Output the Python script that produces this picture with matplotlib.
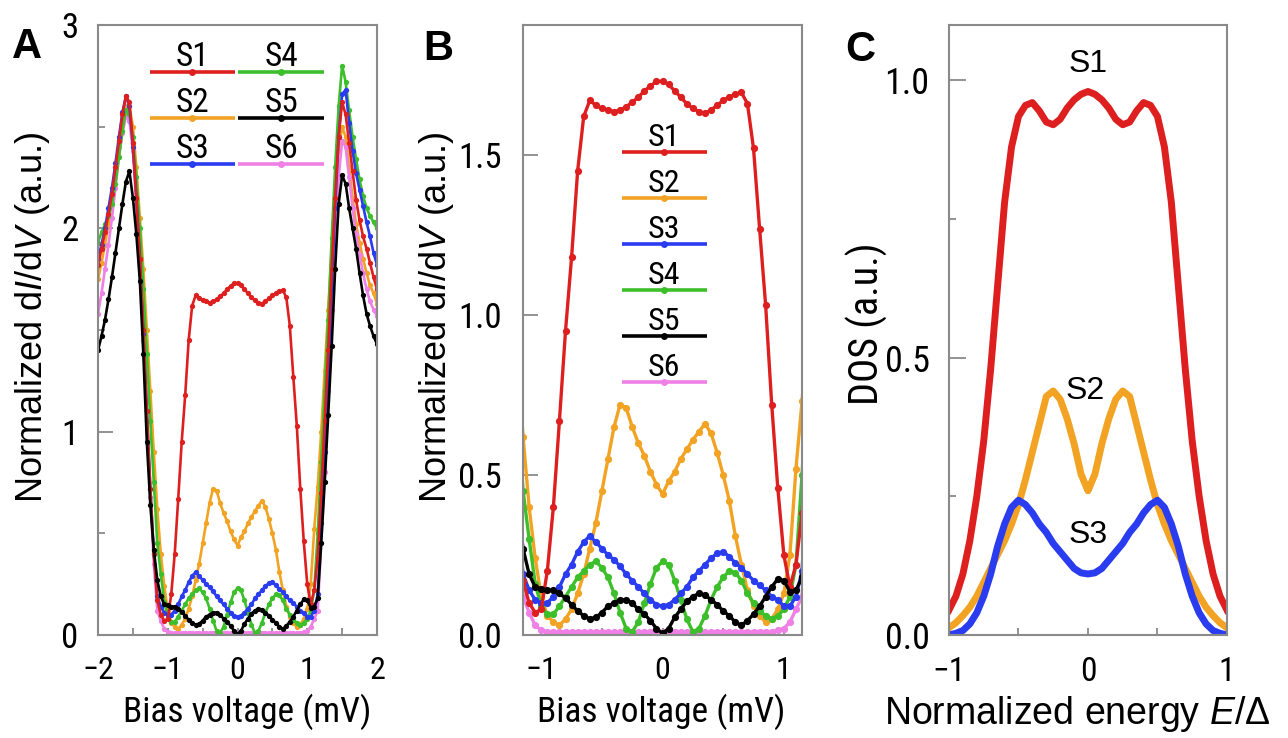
import matplotlib
matplotlib.use('Agg')
import matplotlib.pyplot as plt
import numpy as np

plt.rcParams['font.family'] = ['Liberation Sans', 'DejaVu Sans']
plt.rcParams['mathtext.fontset'] = 'custom'
plt.rcParams['mathtext.rm'] = 'Liberation Sans'
plt.rcParams['mathtext.it'] = 'Liberation Sans:italic'

COND = ['Roboto Condensed', 'Liberation Sans', 'DejaVu Sans']

# ---- panels A and B: measured dI/dV spectra (same data, B is the zoom) ----
bias = [-2.00, -1.95, -1.90, -1.85, -1.80, -1.75, -1.70, -1.65, -1.60, -1.55,
        -1.50, -1.45, -1.40, -1.35, -1.30, -1.25, -1.20, -1.15, -1.10, -1.05,
        -1.00, -0.95, -0.90, -0.85, -0.80, -0.75, -0.70, -0.65, -0.60, -0.55,
        -0.50, -0.45, -0.40, -0.35, -0.30, -0.25, -0.20, -0.15, -0.10, -0.05,
        0.00, 0.05, 0.10, 0.15, 0.20, 0.25, 0.30, 0.35, 0.40, 0.45,
        0.50, 0.55, 0.60, 0.65, 0.70, 0.75, 0.80, 0.85, 0.90, 0.95,
        1.00, 1.05, 1.10, 1.15, 1.20, 1.25, 1.30, 1.35, 1.40, 1.45,
        1.50, 1.55, 1.60, 1.65, 1.70, 1.75, 1.80, 1.85, 1.90, 1.95, 2.00]

s1 = [1.82, 1.90, 1.98, 2.07, 2.17, 2.30, 2.43, 2.56, 2.65, 2.62,
      2.42, 2.15, 1.85, 1.50, 1.10, 0.72, 0.40, 0.17, 0.10, 0.07,
      0.08, 0.20, 0.40, 0.67, 0.95, 1.18, 1.45, 1.62, 1.67, 1.655,
      1.645, 1.64, 1.635, 1.64, 1.65, 1.665, 1.68, 1.70, 1.715, 1.73,
      1.73, 1.72, 1.70, 1.68, 1.66, 1.645, 1.635, 1.63, 1.64, 1.655,
      1.67, 1.68, 1.69, 1.695, 1.66, 1.52, 1.27, 1.03, 0.72, 0.46,
      0.25, 0.15, 0.22, 0.38, 0.70, 1.05, 1.40, 1.80, 2.15, 2.45,
      2.62, 2.56, 2.42, 2.28, 2.14, 2.04, 1.96, 1.90, 1.83, 1.76, 1.70]

s2 = [1.75, 1.83, 1.92, 2.02, 2.13, 2.26, 2.40, 2.52, 2.60, 2.60,
      2.50, 2.30, 2.05, 1.80, 1.50, 1.20, 0.90, 0.62, 0.40, 0.24,
      0.12, 0.06, 0.04, 0.03, 0.05, 0.08, 0.13, 0.19, 0.27, 0.35,
      0.45, 0.55, 0.65, 0.72, 0.71, 0.65, 0.60, 0.56, 0.51, 0.47,
      0.44, 0.48, 0.51, 0.55, 0.58, 0.61, 0.635, 0.66, 0.63, 0.57,
      0.50, 0.42, 0.31, 0.22, 0.14, 0.09, 0.06, 0.04, 0.05, 0.08,
      0.13, 0.25, 0.52, 0.73, 1.00, 1.30, 1.60, 1.90, 2.15, 2.38,
      2.50, 2.45, 2.30, 2.15, 2.02, 1.93, 1.85, 1.78, 1.72, 1.68, 1.63]

s3 = [1.85, 1.92, 2.00, 2.10, 2.20, 2.32, 2.45, 2.57, 2.65, 2.60,
      2.40, 2.15, 1.85, 1.48, 1.10, 0.72, 0.40, 0.19, 0.14, 0.11,
      0.10, 0.10, 0.12, 0.15, 0.19, 0.22, 0.26, 0.29, 0.31, 0.29,
      0.27, 0.25, 0.235, 0.215, 0.19, 0.17, 0.15, 0.13, 0.11, 0.095,
      0.09, 0.095, 0.11, 0.13, 0.15, 0.18, 0.20, 0.22, 0.24, 0.255,
      0.26, 0.245, 0.225, 0.21, 0.19, 0.17, 0.155, 0.14, 0.12, 0.11,
      0.09, 0.09, 0.12, 0.20, 0.55, 0.90, 1.30, 1.70, 2.10, 2.45,
      2.66, 2.68, 2.52, 2.38, 2.27, 2.19, 2.11, 2.03, 1.96, 1.88, 1.82]

s4 = [1.93, 1.98, 2.02, 2.06, 2.12, 2.22, 2.35, 2.48, 2.58, 2.56,
      2.45, 2.25, 2.00, 1.70, 1.38, 1.05, 0.75, 0.45, 0.30, 0.16,
      0.09, 0.065, 0.065, 0.09, 0.12, 0.15, 0.18, 0.20, 0.22, 0.23,
      0.21, 0.18, 0.13, 0.07, 0.02, 0.01, 0.04, 0.10, 0.16, 0.21,
      0.23, 0.22, 0.17, 0.11, 0.05, 0.01, 0.02, 0.06, 0.11, 0.15,
      0.18, 0.20, 0.195, 0.17, 0.13, 0.10, 0.075, 0.06, 0.05, 0.06,
      0.08, 0.12, 0.22, 0.50, 0.85, 1.20, 1.55, 1.95, 2.30, 2.60,
      2.80, 2.72, 2.58, 2.45, 2.34, 2.24, 2.16, 2.10, 2.06, 2.03, 2.00]

s5 = [1.40, 1.47, 1.55, 1.65, 1.76, 1.88, 2.00, 2.12, 2.23, 2.28,
      2.15, 1.97, 1.74, 1.38, 0.95, 0.64, 0.42, 0.27, 0.19, 0.15,
      0.145, 0.14, 0.14, 0.13, 0.115, 0.095, 0.075, 0.06, 0.05, 0.055,
      0.07, 0.09, 0.10, 0.11, 0.11, 0.10, 0.08, 0.065, 0.045, 0.02,
      0.005, 0.02, 0.055, 0.08, 0.105, 0.12, 0.13, 0.125, 0.11, 0.095,
      0.075, 0.06, 0.04, 0.03, 0.045, 0.065, 0.09, 0.12, 0.15, 0.175,
      0.17, 0.135, 0.14, 0.18, 0.45, 0.75, 1.08, 1.42, 1.80, 2.12,
      2.26, 2.22, 2.10, 2.00, 1.90, 1.78, 1.67, 1.58, 1.52, 1.47, 1.43]

s6 = [1.58, 1.68, 1.80, 1.92, 2.05, 2.20, 2.35, 2.47, 2.55, 2.53,
      2.38, 2.12, 1.82, 1.45, 1.05, 0.68, 0.35, 0.12, 0.07, 0.03,
      0.015, 0.01, 0.01, 0.01, 0.01, 0.01, 0.01, 0.01, 0.01, 0.01,
      0.01, 0.01, 0.01, 0.01, 0.01, 0.01, 0.01, 0.01, 0.01, 0.01,
      0.01, 0.01, 0.01, 0.01, 0.01, 0.01, 0.01, 0.01, 0.01, 0.01,
      0.01, 0.01, 0.01, 0.01, 0.01, 0.01, 0.01, 0.01, 0.01, 0.015,
      0.02, 0.04, 0.08, 0.12, 0.45, 0.80, 1.20, 1.60, 1.95, 2.25,
      2.43, 2.40, 2.25, 2.10, 1.97, 1.87, 1.78, 1.70, 1.64, 1.60, 1.57]

spectra = {'S1': s1, 'S2': s2, 'S3': s3, 'S4': s4, 'S5': s5, 'S6': s6}
colors = {'S1': '#dd1f1f', 'S2': '#f2a323', 'S3': '#2a3cf0',
          'S4': '#3cbf2a', 'S5': '#000000', 'S6': '#ef80e6'}
draw_order = ['S2', 'S6', 'S4', 'S3', 'S1', 'S5']

# ---- panel C: model DOS ----
energy = [-1.00, -0.95, -0.90, -0.85, -0.80, -0.75, -0.70, -0.65, -0.60, -0.55,
          -0.50, -0.45, -0.40, -0.35, -0.30, -0.25, -0.20, -0.15, -0.10, -0.05,
          0.00, 0.05, 0.10, 0.15, 0.20, 0.25, 0.30, 0.35, 0.40, 0.45,
          0.50, 0.55, 0.60, 0.65, 0.70, 0.75, 0.80, 0.85, 0.90, 0.95, 1.00]
dos1 = [0.045, 0.07, 0.11, 0.17, 0.25, 0.35, 0.48, 0.63, 0.78, 0.88,
        0.935, 0.955, 0.96, 0.945, 0.925, 0.92, 0.93, 0.95, 0.965, 0.975,
        0.98, 0.975, 0.965, 0.95, 0.93, 0.92, 0.925, 0.945, 0.96, 0.955,
        0.935, 0.88, 0.78, 0.63, 0.48, 0.35, 0.25, 0.17, 0.11, 0.07, 0.045]
dos2 = [0.013, 0.022, 0.035, 0.05, 0.07, 0.095, 0.12, 0.145, 0.17, 0.20,
        0.235, 0.28, 0.33, 0.38, 0.43, 0.44, 0.425, 0.39, 0.345, 0.29,
        0.26, 0.29, 0.345, 0.39, 0.425, 0.44, 0.43, 0.38, 0.33, 0.28,
        0.235, 0.20, 0.17, 0.145, 0.12, 0.095, 0.07, 0.05, 0.035, 0.022, 0.013]
dos3 = [0.00, 0.003, 0.008, 0.02, 0.04, 0.07, 0.11, 0.16, 0.20, 0.23,
        0.243, 0.235, 0.22, 0.20, 0.185, 0.165, 0.15, 0.135, 0.12, 0.112,
        0.11, 0.112, 0.12, 0.135, 0.15, 0.165, 0.185, 0.20, 0.22, 0.235,
        0.243, 0.23, 0.20, 0.16, 0.11, 0.07, 0.04, 0.02, 0.008, 0.003, 0.00]

MINUS = '\u2212'
SPINE = '#8a8a8a'


def style_axes(ax):
    for sp in ax.spines.values():
        sp.set_color(SPINE)
        sp.set_linewidth(1.5)


def key(ax, x0, x1, y, color, label, ms, fs):
    ax.plot([x0, x1], [y, y], color=color, lw=2.6, transform=ax.transAxes,
            solid_capstyle='butt')
    ax.plot([(x0 + x1) / 2], [y], 'o', color=color, ms=ms, mew=0,
            transform=ax.transAxes)
    ax.text((x0 + x1) / 2, y + 0.01, label, ha='center', va='baseline',
            fontsize=fs, family=COND, transform=ax.transAxes)


fig = plt.figure(figsize=(12.88, 7.38), dpi=100)
axA = fig.add_axes([0.0761, 0.1396, 0.2166, 0.8266])
axB = fig.add_axes([0.4061, 0.1396, 0.2166, 0.8266])
axC = fig.add_axes([0.7368, 0.1396, 0.2158, 0.8266])

# ---------------- A ----------------
for name in draw_order:
    axA.plot(bias, spectra[name], '-o', color=colors[name], lw=1.9, ms=3.8, mew=0)
axA.set_xlim(-2, 2)
axA.set_ylim(0, 3)
axA.set_xticks([-2, -1, 0, 1, 2], [MINUS + '2', MINUS + '1', '0', '1', '2'],
               family=COND, fontsize=23)
axA.set_xticks([-1.5, -0.5, 0.5, 1.5], minor=True)
axA.set_yticks([0, 1, 2, 3], ['0', '1', '2', '3'], family=COND, fontsize=25)
axA.set_yticks([0.5, 1.5, 2.5], minor=True)
axA.tick_params(axis='y', which='major', direction='in', length=11, width=1.3,
                color=SPINE, pad=14)
axA.tick_params(axis='y', which='minor', direction='in', length=5, width=1.3, color=SPINE)
axA.tick_params(axis='x', which='both', direction='in', length=5, width=1.3,
                color=SPINE, pad=15)
axA.set_xlabel('Bias voltage (mV)', fontsize=25.5, family=COND)
axA.xaxis.set_label_coords(0.534, -0.096)
axA.set_ylabel(r'Normalized d$I$/d$V$ (a.u.)', fontsize=26)
axA.yaxis.set_label_coords(-0.165, 0.52)
style_axes(axA)
legA = [('S1', 0.186, 0.491, 0.923), ('S2', 0.186, 0.491, 0.847), ('S3', 0.186, 0.491, 0.772),
        ('S4', 0.502, 0.81, 0.923), ('S5', 0.502, 0.81, 0.847), ('S6', 0.502, 0.81, 0.772)]
for name, x0, x1, y in legA:
    key(axA, x0, x1, y, colors[name], name, 5, 24)

# ---------------- B ----------------
for name in draw_order:
    axB.plot(bias, spectra[name], '-o', color=colors[name], lw=2.4, ms=5.2, mew=0)
axB.set_xlim(-1.15, 1.15)
axB.set_ylim(0, 1.906)
axB.set_xticks([-1, 0, 1], [MINUS + '1', '0', '1'], family=COND, fontsize=23)
axB.set_xticks([-0.5, 0.5], minor=True)
axB.set_yticks([0, 0.5, 1.0, 1.5], ['0.0', '0.5', '1.0', '1.5'], family=COND, fontsize=25)
axB.tick_params(axis='y', which='major', direction='in', length=11, width=1.3,
                color=SPINE, pad=15)
axB.tick_params(axis='x', which='both', direction='in', length=5, width=1.3,
                color=SPINE, pad=15)
axB.set_xlabel('Bias voltage (mV)', fontsize=25.5, family=COND)
axB.xaxis.set_label_coords(0.495, -0.096)
axB.set_ylabel(r'Normalized d$I$/d$V$ (a.u.)', fontsize=26)
axB.yaxis.set_label_coords(-0.24, 0.52)
style_axes(axB)
for i, name in enumerate(['S1', 'S2', 'S3', 'S4', 'S5', 'S6']):
    key(axB, 0.354, 0.659, 0.791 - i * 0.0752, colors[name], name, 5, 23)

# ---------------- C ----------------
axC.plot(energy, dos1, color=colors['S1'], lw=5)
axC.plot(energy, dos2, color=colors['S2'], lw=5)
axC.plot(energy, dos3, color=colors['S3'], lw=5)
axC.set_xlim(-1, 1)
axC.set_ylim(0, 1.1)
axC.set_xticks([-1, 0, 1], [MINUS + '1', '0', '1'], family=COND, fontsize=24)
axC.set_xticks([-0.5, 0.5], minor=True)
axC.set_yticks([0, 0.5, 1.0], ['0.0', '0.5', '1.0'], family=COND, fontsize=26)
axC.set_yticks([0.25, 0.75], minor=True)
axC.tick_params(axis='y', which='major', direction='in', length=12, width=1.3,
                color=SPINE, pad=14)
axC.tick_params(axis='y', which='minor', direction='in', length=5, width=1.3, color=SPINE)
axC.tick_params(axis='x', which='both', direction='in', length=5, width=1.3,
                color=SPINE, pad=15)
axC.set_xlabel(r'Normalized energy $E$/$\Delta$', fontsize=27)
axC.xaxis.set_label_coords(0.46, -0.096)
axC.set_ylabel('DOS (a.u.)', fontsize=29, family=COND)
axC.yaxis.set_label_coords(-0.22, 0.51)
style_axes(axC)
axC.text(0, 1.03, 'S1', ha='center', va='center', fontsize=23)
axC.text(-0.02, 0.44, 'S2', ha='center', va='center', fontsize=23)
axC.text(0, 0.18, 'S3', ha='center', va='center', fontsize=23)

# panel letters
fig.text(12 / 1288, 1 - 58 / 738, 'A', fontsize=30, fontweight='bold', va='baseline')
fig.text(423 / 1288, 1 - 60 / 738, 'B', fontsize=30, fontweight='bold', va='baseline')
fig.text(845 / 1288, 1 - 61 / 738, 'C', fontsize=30, fontweight='bold', va='baseline')

fig.savefig('out.png', dpi=100)
